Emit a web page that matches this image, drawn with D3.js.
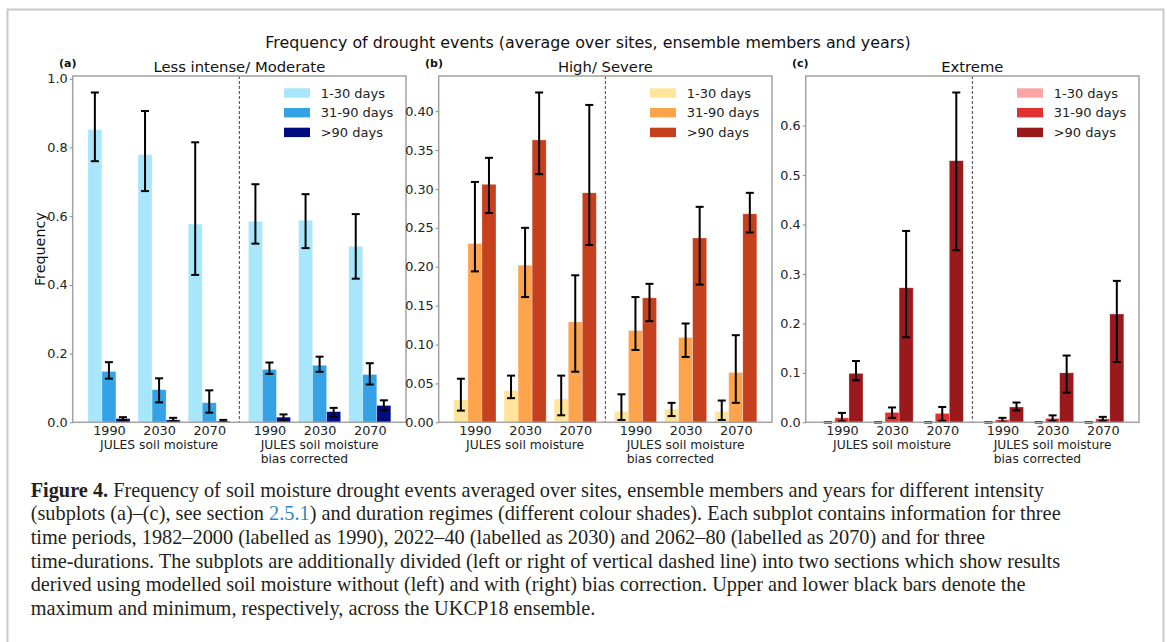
<!DOCTYPE html>
<html><head><meta charset="utf-8">
<script src="https://cdn.jsdelivr.net/npm/d3@7"></script>
<style>body{margin:0;background:#fff}svg{display:block}</style>
</head><body><svg id="chart" width="1167" height="642"></svg>
<script>
// ---------------- DATA ----------------
const years = ["1990", "2030", "2070", "1990", "2030", "2070"];
const sectionLabels = ["JULES soil moisture", "JULES soil moisture"];
const sectionSub = ["", "bias corrected"];
const durations = ["1-30 days", "31-90 days", ">90 days"];
const mainTitle = "Frequency of drought events (average over sites, ensemble members and years)";
const panelLabels = ["(a)", "(b)", "(c)"];
const panelTitles = ["Less intense/ Moderate", "High/ Severe", "Extreme"];

// Panel (a) Less intense / Moderate
const aMean1_30  = [0.852, 0.779, 0.577, 0.585, 0.588, 0.512];
const aMin1_30   = [0.760, 0.673, 0.429, 0.520, 0.507, 0.418];
const aMax1_30   = [0.960, 0.906, 0.815, 0.693, 0.664, 0.606];
const aMean31_90 = [0.148, 0.095, 0.057, 0.154, 0.166, 0.139];
const aMin31_90  = [0.127, 0.058, 0.028, 0.141, 0.147, 0.110];
const aMax31_90  = [0.175, 0.128, 0.093, 0.174, 0.191, 0.172];
const aMean90    = [0.011, 0.007, 0.003, 0.015, 0.031, 0.049];
const aMin90     = [0.006, 0.004, 0.001, 0.007, 0.017, 0.035];
const aMax90     = [0.015, 0.013, 0.007, 0.023, 0.042, 0.064];

// Panel (b) High / Severe
const bMean1_30  = [0.029, 0.041, 0.030, 0.014, 0.017, 0.014];
const bMin1_30   = [0.015, 0.031, 0.009, 0.003, 0.008, 0.003];
const bMax1_30   = [0.056, 0.060, 0.060, 0.036, 0.025, 0.028];
const bMean31_90 = [0.230, 0.202, 0.129, 0.118, 0.109, 0.064];
const bMin31_90  = [0.194, 0.161, 0.065, 0.093, 0.084, 0.025];
const bMax31_90  = [0.309, 0.250, 0.189, 0.161, 0.127, 0.112];
const bMean90    = [0.306, 0.363, 0.295, 0.160, 0.237, 0.268];
const bMin90     = [0.269, 0.319, 0.228, 0.130, 0.177, 0.244];
const bMax90     = [0.340, 0.424, 0.408, 0.178, 0.277, 0.295];

// Panel (c) Extreme
const cMean1_30  = [0, 0, 0, 0, 0, 0];
const cMin1_30   = [0, 0, 0, 0, 0, 0];
const cMax1_30   = [0, 0, 0, 0, 0, 0];
const cMean31_90 = [0.009, 0.020, 0.018, 0.005, 0.008, 0.007];
const cMin31_90  = [0.002, 0.009, 0.003, 0.001, 0.003, 0.003];
const cMax31_90  = [0.019, 0.030, 0.031, 0.009, 0.014, 0.011];
const cMean90    = [0.099, 0.272, 0.529, 0.031, 0.100, 0.219];
const cMin90     = [0.085, 0.172, 0.348, 0.024, 0.060, 0.122];
const cMax90     = [0.124, 0.387, 0.667, 0.040, 0.135, 0.286];

const aTicks = [0, 0.2, 0.4, 0.6, 0.8, 1.0];
const bTicks = [0, 0.05, 0.10, 0.15, 0.20, 0.25, 0.30, 0.35, 0.40];
const cTicks = [0, 0.1, 0.2, 0.3, 0.4, 0.5, 0.6];

const captionLines = [
  [{t:"Figure 4.", b:true}, {t:" Frequency of soil moisture drought events averaged over sites, ensemble members and years for different intensity"}],
  [{t:"(subplots (a)–(c), see section "}, {t:"2.5.1", link:true}, {t:") and duration regimes (different colour shades). Each subplot contains information for three"}],
  [{t:"time periods, 1982–2000 (labelled as 1990), 2022–40 (labelled as 2030) and 2062–80 (labelled as 2070) and for three"}],
  [{t:"time-durations. The subplots are additionally divided (left or right of vertical dashed line) into two sections which show results"}],
  [{t:"derived using modelled soil moisture without (left) and with (right) bias correction. Upper and lower black bars denote the"}],
  [{t:"maximum and minimum, respectively, across the UKCP18 ensemble."}]
];

// ---------------- STYLE / LAYOUT ----------------
const panels = [
  {means:[aMean1_30,aMean31_90,aMean90], mins:[aMin1_30,aMin31_90,aMin90], maxs:[aMax1_30,aMax31_90,aMax90],
   colors:["#a8e6fb","#36a2e6","#000b80"], ticks:aTicks, fmt:".1f", left:72.7},
  {means:[bMean1_30,bMean31_90,bMean90], mins:[bMin1_30,bMin31_90,bMin90], maxs:[bMax1_30,bMax31_90,bMax90],
   colors:["#fee59b","#fda34c","#c5401d"], ticks:bTicks, fmt:".2f", left:438.7},
  {means:[cMean1_30,cMean31_90,cMean90], mins:[cMin1_30,cMin31_90,cMin90], maxs:[cMax1_30,cMax31_90,cMax90],
   colors:["#fca5a5","#e0302f","#9a191d"], ticks:cTicks, fmt:".1f", left:805.7}
];
const positions = [0, 1, 2, 3.2, 4.2, 5.2];
const barW = 0.28;
const axW = 333.3, axTop = 76, axBottom = 422.3;
const FONT = "DejaVu Sans";
const TICKFS = 12.8;

const svg = d3.select("#chart");
svg.append("rect").attr("width",1167).attr("height",642).attr("fill","#fff");
// outer frame
svg.append("rect").attr("x",7.5).attr("y",9.5).attr("width",1156).attr("height",700)
  .attr("fill","none").attr("stroke","#c9c9c9").attr("stroke-width",2);

svg.append("text").attr("x",588).attr("y",48.3).attr("text-anchor","middle")
  .attr("font-family",FONT).attr("font-size",15.9).attr("fill","#111").text(mainTitle);

panels.forEach((p, pi) => {
  const lo = d3.min(positions) - 1.5*barW, hi = d3.max(positions) + 1.5*barW;
  const pad = 0.05*(hi-lo);
  const x = d3.scaleLinear().domain([lo-pad, hi+pad]).range([p.left, p.left+axW]);
  const ymax = d3.max(p.maxs.flat()) * 1.05;
  const y = d3.scaleLinear().domain([0, ymax]).range([axBottom, axTop]);
  const g = svg.append("g");

  // bars
  p.means.forEach((series, si) => {
    const off = (si-1)*barW;
    g.selectAll(null).data(series).enter().append("rect")
      .attr("x", (d,i) => x(positions[i]+off-barW/2))
      .attr("width", (d,i) => x(positions[i]+off+barW/2) - x(positions[i]+off-barW/2))
      .attr("y", d => y(d)).attr("height", d => y(0)-y(d))
      .attr("fill", p.colors[si]).attr("stroke","#fff").attr("stroke-opacity",0.5).attr("stroke-width",0.6);
  });
  // error bars
  p.means.forEach((series, si) => {
    const off = (si-1)*barW;
    series.forEach((d,i) => {
      const cx = x(positions[i]+off);
      const y1 = y(p.mins[si][i]), y2 = y(p.maxs[si][i]);
      const eg = g.append("g").attr("stroke","#000").attr("stroke-width",2);
      eg.append("line").attr("x1",cx).attr("x2",cx).attr("y1",y1).attr("y2",y2);
      eg.append("line").attr("x1",cx-4).attr("x2",cx+4).attr("y1",y1).attr("y2",y1);
      eg.append("line").attr("x1",cx-4).attr("x2",cx+4).attr("y1",y2).attr("y2",y2);
    });
  });
  // dashed divider
  const mid = (positions[2]+positions[3])/2;
  g.append("line").attr("x1",x(mid)).attr("x2",x(mid)).attr("y1",axTop).attr("y2",axBottom)
    .attr("stroke","#444").attr("stroke-width",1).attr("stroke-dasharray","3,2");
  // frame
  g.append("rect").attr("x",p.left).attr("y",axTop).attr("width",axW).attr("height",axBottom-axTop)
    .attr("fill","none").attr("stroke","#a3a3a3").attr("stroke-width",1.5);

  // y axis
  const ya = g.append("g").attr("transform",`translate(${p.left},0)`)
    .call(d3.axisLeft(y).tickValues(p.ticks).tickFormat(d3.format(p.fmt)).tickSize(3).tickPadding(2));
  ya.select(".domain").remove();
  ya.selectAll("line").attr("stroke","#888");
  ya.selectAll("text").attr("font-family",FONT).attr("font-size",TICKFS).attr("fill","#222");

  // x axis (years)
  const xa = g.append("g").attr("transform",`translate(0,${axBottom})`)
    .call(d3.axisBottom(x).tickValues(positions).tickFormat((d,i)=>years[i]).tickSize(0).tickPadding(0));
  xa.select(".domain").remove();
  xa.selectAll("text").attr("font-family",FONT).attr("font-size",TICKFS).attr("fill","#222")
    .attr("y",13).attr("dy",0);

  // section labels
  [1,4].forEach((gi, k) => {
    const t = g.append("text").attr("x",x(positions[gi])).attr("y",449.3).attr("text-anchor","middle")
      .attr("font-family",FONT).attr("font-size",12.3).attr("fill","#222").text(sectionLabels[k]);
    if (sectionSub[k]) {
      const len = t.node().getComputedTextLength();
      g.append("text").attr("x",x(positions[gi]) - len/2).attr("y",462.7)
        .attr("font-family",FONT).attr("font-size",12.3).attr("fill","#222").text(sectionSub[k]);
    }
  });

  // titles
  g.append("text").attr("x",p.left+axW/2).attr("y",72.3).attr("text-anchor","middle")
    .attr("font-family",FONT).attr("font-size",14.8).attr("fill","#111").text(panelTitles[pi]);
  g.append("text").attr("x",p.left-13.7).attr("y",66.5)
    .attr("font-family",FONT).attr("font-size",11).attr("font-weight","bold").attr("fill","#111").text(panelLabels[pi]);

  // legend
  const lx = p.left + axW - 122;
  durations.forEach((dname, si) => {
    const cy = 93 + si*19.7;
    g.append("rect").attr("x",lx).attr("y",cy-4.7).attr("width",26).attr("height",9.4).attr("fill",p.colors[si]);
    g.append("text").attr("x",lx+36.7).attr("y",cy).attr("dy","0.36em")
      .attr("font-family",FONT).attr("font-size",13).attr("fill","#222").text(dname);
  });

  if (pi === 0) {
    svg.append("text").attr("transform",`translate(45,${(axTop+axBottom)/2}) rotate(-90)`)
      .attr("text-anchor","middle").attr("font-family",FONT).attr("font-size",14.3).attr("fill","#111").text("Frequency");
  }
});

// caption
const cap = svg.append("g").attr("font-family","Liberation Serif").attr("fill","#231f20");
const capTexts = captionLines.map((line, li) => {
  const t = cap.append("text").attr("x",30.7).attr("y",496.5 + li*23.7).attr("font-size",18);
  line.forEach(seg => {
    const ts = t.append("tspan").text(seg.t);
    if (seg.b) ts.attr("font-weight","bold");
    if (seg.link) ts.attr("fill","#2e86c1");
  });
  return t;
});
const w2 = capTexts[1].node().getComputedTextLength();
const fs = 18 * 1031 / w2;
capTexts.forEach(t => t.attr("font-size", fs));
</script></body></html>
